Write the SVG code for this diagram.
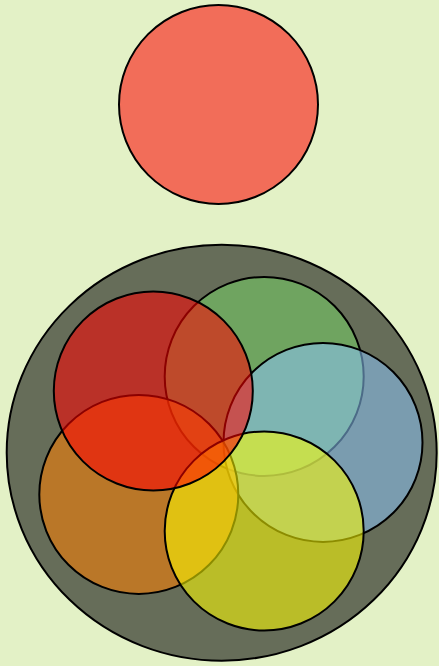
<svg xmlns="http://www.w3.org/2000/svg" width="439" height="666" viewBox="0 0 439 666">
<style>
.c{stroke:#000;stroke-width:2;fill-opacity:0.55}
</style>
<rect width="439" height="666" fill="#e3f1c6"/>
<g id="top"><circle class="c" cx="218.5" cy="104.5" r="99.5" fill="#ff0000"/></g>
<g id="outer"><ellipse class="c" cx="221.7" cy="452.7" rx="215" ry="208" fill="#000000"/></g>
<g id="green"><circle class="c" cx="264.2" cy="376.4" r="99.5" fill="#77d266"/></g>
<g id="blue"><circle class="c" cx="323" cy="442.4" r="99.5" fill="#8ac3f6"/></g>
<g id="orange"><circle class="c" cx="138.8" cy="494.4" r="99.5" fill="#ff7f00"/></g>
<g id="yellow"><circle class="c" cx="264.2" cy="531" r="99.5" fill="#ffff00"/></g>
<g id="red"><circle class="c" cx="153.3" cy="391" r="99.5" fill="#ff0000"/></g>
<g id="connectors"/>
</svg>
